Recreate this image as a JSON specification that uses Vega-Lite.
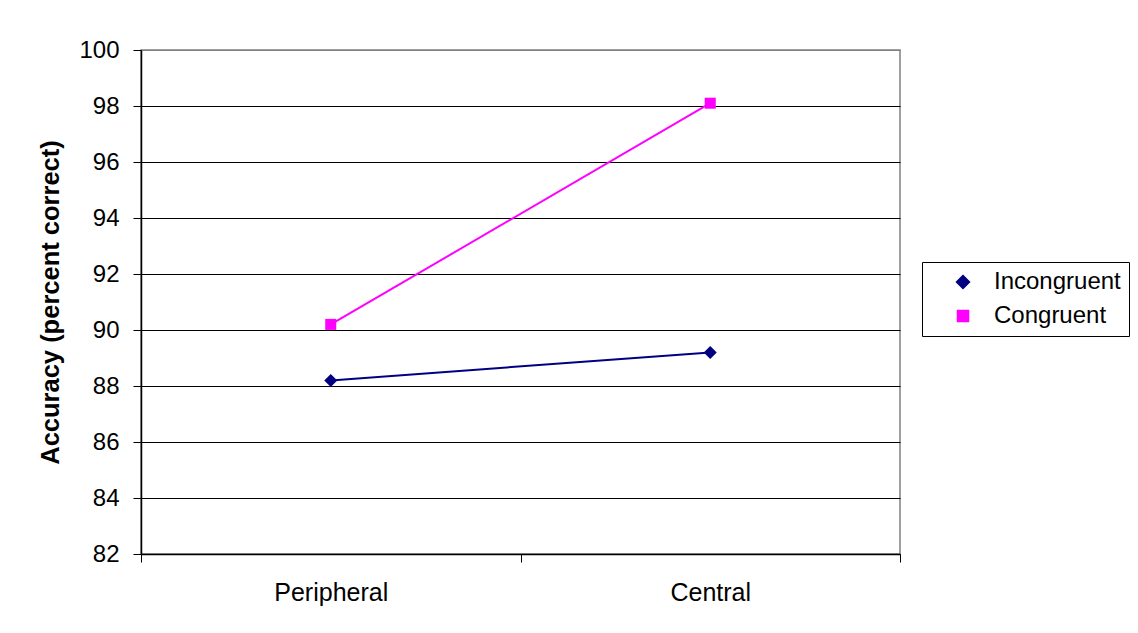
{
  "$schema": "https://vega.github.io/schema/vega-lite/v6.json",
  "width": 759,
  "height": 504,
  "autosize": {"type": "none"},
  "padding": {"left": 141, "top": 50, "right": 238, "bottom": 79},
  "background": "white",
  "config": {
    "font": "Liberation Sans",
    "view": {"stroke": "#808080", "strokeWidth": 1.5}
  },
  "data": {
    "values": [
      {"location": "Peripheral", "condition": "Incongruent", "accuracy": 88.2},
      {"location": "Central", "condition": "Incongruent", "accuracy": 89.2},
      {"location": "Peripheral", "condition": "Congruent", "accuracy": 90.2},
      {"location": "Central", "condition": "Congruent", "accuracy": 98.1}
    ]
  },
  "encoding": {
    "x": {
      "field": "location",
      "type": "nominal",
      "sort": ["Peripheral", "Central"],
      "scale": {"paddingInner": 0, "paddingOuter": 0},
      "axis": {
        "title": null,
        "labelAngle": 0,
        "labelFontSize": 25,
        "labelColor": "black",
        "labelPadding": 18,
        "tickBand": "extent",
        "tickSize": 8,
        "tickColor": "black",
        "domainColor": "black",
        "domainWidth": 1.5,
        "grid": false
      }
    },
    "y": {
      "field": "accuracy",
      "type": "quantitative",
      "scale": {"domain": [82, 100], "nice": false, "zero": false},
      "axis": {
        "title": "Accuracy (percent correct)",
        "titleFontSize": 25.5,
        "titleFontWeight": "bold",
        "titleColor": "black",
        "titlePadding": 15,
        "values": [82, 84, 86, 88, 90, 92, 94, 96, 98, 100],
        "labelFontSize": 24,
        "labelColor": "black",
        "labelPadding": 14,
        "tickSize": 8,
        "tickColor": "black",
        "domainColor": "black",
        "domainWidth": 1.5,
        "grid": true,
        "gridColor": {"condition": {"test": "datum.value === 100", "value": "#808080"}, "value": "black"},
        "gridWidth": 1,
        "gridOpacity": 1
      }
    },
    "color": {
      "field": "condition",
      "type": "nominal",
      "scale": {"domain": ["Incongruent", "Congruent"], "range": ["#000080", "#FF00FF"]},
      "legend": {
        "title": null,
        "orient": "none",
        "legendX": 781,
        "legendY": 212,
        "direction": "vertical",
        "strokeColor": "black",
        "fillColor": "white",
        "padding": 8,
        "rowPadding": 10,
        "symbolSize": 42,
        "symbolOpacity": 1,
        "symbolOffset": 21,
        "labelOffset": 19,
        "labelFontSize": 24,
        "labelColor": "black",
        "labelFont": "Liberation Sans"
      }
    }
  },
  "layer": [
    {
      "mark": {"type": "line", "strokeWidth": 2},
      "encoding": {"detail": {"field": "condition"}}
    },
    {
      "mark": {"type": "point", "filled": true, "opacity": 1, "size": 42},
      "encoding": {
        "shape": {
          "field": "condition",
          "type": "nominal",
          "scale": {
            "domain": ["Incongruent", "Congruent"],
            "range": ["M0,-2L2,0L0,2L-2,0Z", "M-1.7,-1.7H1.7V1.7H-1.7Z"]
          },
          "legend": null
        }
      }
    }
  ]
}
